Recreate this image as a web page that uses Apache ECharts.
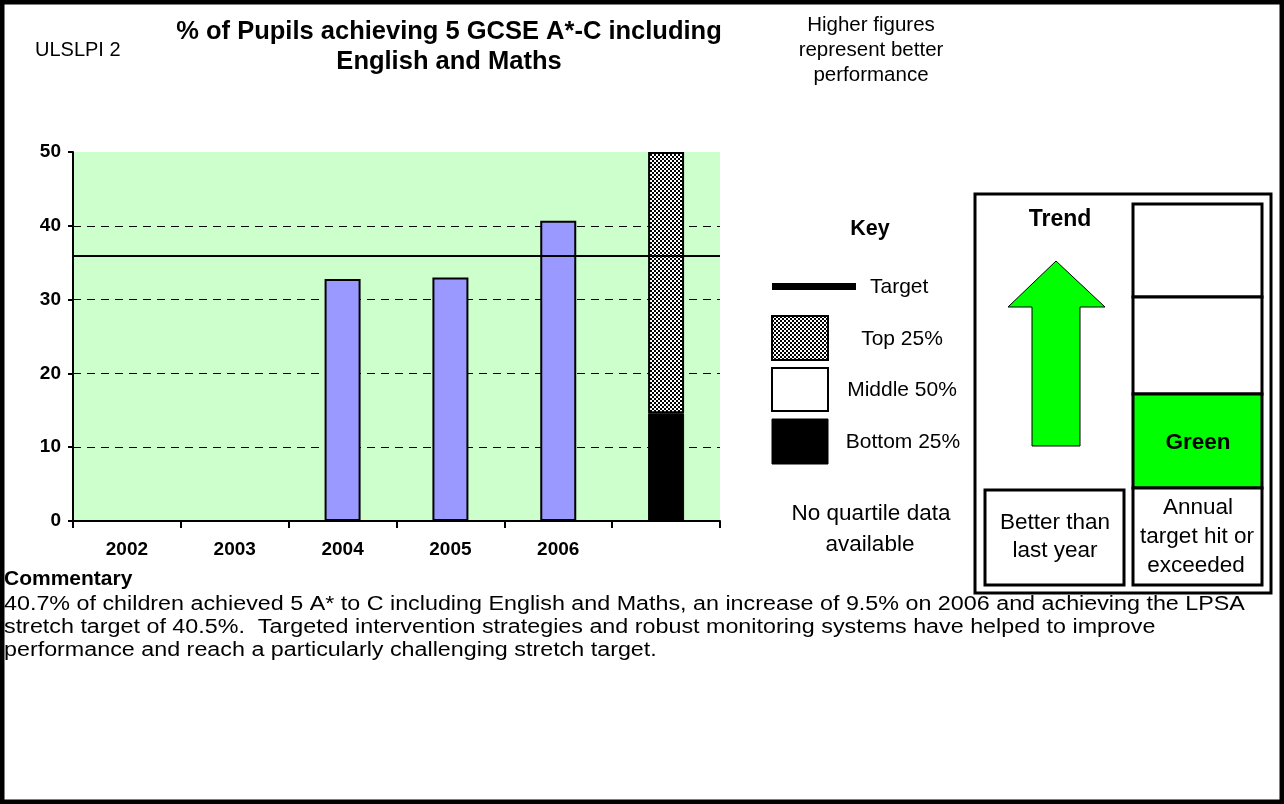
<!DOCTYPE html>
<html>
<head>
<meta charset="utf-8">
<script src="https://cdn.jsdelivr.net/npm/echarts@6/dist/echarts.min.js"></script>
<style>
html,body{margin:0;padding:0;background:#fff;}
#c{width:1284px;height:804px;}
</style>
</head>
<body>
<div id="c"></div>
<script>
// ---- data ----
const categories = ['2002', '2003', '2004', '2005', '2006', ''];
const pupilsPct = [null, null, 32.8, 33.0, 40.7, null];
const targetValue = 36;
const bottomQuartile = [null, null, null, null, null, 14.6];
const middleQuartile = [null, null, null, null, null, 0];
const topQuartile = [null, null, null, null, null, 35.4];
const yMin = 0, yMax = 50, yStep = 10;

const titleLines = ['% of Pupils achieving 5 GCSE A*-C including', 'English and Maths'];
const noteLines = ['Higher figures', 'represent better', 'performance'];
const keyLabels = ['Target', 'Top 25%', 'Middle 50%', 'Bottom 25%'];
const commentaryLines = [
  '40.7% of children achieved 5 A* to C including English and Maths, an increase of 9.5% on 2006 and achieving the LPSA',
  'stretch target of 40.5%.  Targeted intervention strategies and robust monitoring systems have helped to improve',
  'performance and reach a particularly challenging stretch target.'
];

// ---- checker pattern ----
const pat = document.createElement('canvas');
pat.width = 4; pat.height = 4;
const pctx = pat.getContext('2d');
pctx.fillStyle = '#fff'; pctx.fillRect(0, 0, 4, 4);
pctx.fillStyle = '#000'; pctx.fillRect(0, 0, 2, 2); pctx.fillRect(2, 2, 2, 2);
const checker = { image: pat, repeat: 'repeat' };

const FF = '"Liberation Sans", Arial, sans-serif';
function txt(t, x, y, size, bold, align, extra) {
  const o = {
    type: 'text', silent: true, z: 10, x: x, y: y,
    style: {
      text: t, x: 0, y: 0, fill: '#000',
      font: (bold ? 'bold ' : '') + size + 'px ' + FF,
      textAlign: align || 'center', textVerticalAlign: 'middle'
    }
  };
  return Object.assign(o, extra || {});
}
function box(x, y, w, h, fill, lw) {
  return { type: 'rect', silent: true, z: 5, shape: { x: x, y: y, width: w, height: h },
    style: { fill: fill, stroke: '#000', lineWidth: lw } };
}

const graphics = [];
// outer frame
graphics.push({ type: 'rect', silent: true, z: 20, shape: { x: 2, y: 2, width: 1280, height: 800 },
  style: { fill: 'none', stroke: '#000', lineWidth: 5 } });
// header
graphics.push(txt('ULSLPI 2', 35, 50, 20, false, 'left'));
graphics.push(txt(titleLines[0], 449, 32, 25.5, true));
graphics.push(txt(titleLines[1], 449, 62, 25.5, true));
graphics.push(txt(noteLines[0], 871, 25, 20.5, false));
graphics.push(txt(noteLines[1], 871, 50, 20.5, false));
graphics.push(txt(noteLines[2], 871, 75, 20.5, false));
// key
graphics.push(txt('Key', 870, 229, 21.5, true));
graphics.push({ type: 'rect', silent: true, z: 5, shape: { x: 772, y: 283, width: 84, height: 7 }, style: { fill: '#000' } });
graphics.push(txt(keyLabels[0], 870, 287, 21, false, 'left'));
graphics.push(box(772, 316, 56, 44, checker, 2));
graphics.push(txt(keyLabels[1], 902, 339, 21, false));
graphics.push(box(772, 368, 56, 43, '#fff', 2));
graphics.push(txt(keyLabels[2], 902, 390, 21, false));
graphics.push(box(772, 419, 56, 45, '#000', 1));
graphics.push(txt(keyLabels[3], 903, 442, 21, false));
graphics.push(txt('No quartile data', 871, 514, 22.5, false));
graphics.push(txt('available', 870, 545, 22.5, false));
// right panel
graphics.push(box(975, 194, 296, 399, '#fff', 3));
graphics.push(txt('Trend', 1060, 220, 23, true));
graphics.push({ type: 'polygon', silent: true, z: 6,
  shape: { points: [[1056, 261], [1105, 307], [1080, 307], [1080, 446], [1032, 446], [1032, 307], [1008, 307]] },
  style: { fill: '#00FF00', stroke: '#000', lineWidth: 1 } });
graphics.push(box(985, 490, 139, 95, '#fff', 3));
graphics.push(txt('Better than', 1055, 523, 22.5, false));
graphics.push(txt('last year', 1055, 551, 22.5, false));
graphics.push(box(1133, 204, 129, 93, '#fff', 3));
graphics.push(box(1133, 297, 129, 97, '#fff', 3));
graphics.push(box(1133, 394, 129, 94, '#00FF00', 3));
graphics.push(box(1133, 488, 129, 97, '#fff', 3));
graphics.push(txt('Green', 1198, 443, 22.5, true));
graphics.push(txt('Annual', 1198, 508, 22.5, false));
graphics.push(txt('target hit or', 1197, 537, 22.5, false));
graphics.push(txt('exceeded', 1196, 566, 22.5, false));
// commentary
graphics.push(txt('Commentary', 4, 579, 21, true, 'left'));
commentaryLines.forEach(function (l, i) {
  graphics.push(txt(l, 4, 604 + i * 23, 20, false, 'left', { scaleX: 1.165 }));
});

const chart = echarts.init(document.getElementById('c'), null, { renderer: 'canvas' });
chart.setOption({
  animation: false,
  backgroundColor: '#fff',
  grid: { left: 73, right: 564, top: 152, bottom: 283, show: true, backgroundColor: '#CCFFCC', borderWidth: 0 },
  xAxis: {
    type: 'category', data: categories, boundaryGap: true,
    axisLine: { lineStyle: { color: '#000', width: 2 } },
    axisTick: { show: true, length: 7, lineStyle: { color: '#000', width: 2 } },
    axisLabel: { color: '#000', fontWeight: 'bold', fontSize: 19, fontFamily: FF, margin: 19 }
  },
  yAxis: {
    type: 'value', min: yMin, max: yMax, interval: yStep,
    axisLine: { show: true, lineStyle: { color: '#000', width: 2 } },
    axisTick: { show: true, length: 5, lineStyle: { color: '#000', width: 2 } },
    axisLabel: { color: '#000', fontWeight: 'bold', fontSize: 19, fontFamily: FF, margin: 12 },
    splitLine: { show: true, showMinLine: false, showMaxLine: false, lineStyle: { color: '#000', width: 1, type: [8, 6] } }
  },
  series: [
    {
      name: 'Pupils', type: 'bar', data: pupilsPct, barWidth: 36, barGap: '-100%', z: 3,
      itemStyle: { color: '#9999FF', borderColor: '#000', borderWidth: 2 },
      markLine: { silent: true, symbol: 'none', label: { show: false },
        lineStyle: { color: '#000', width: 2, type: 'solid' }, data: [{ yAxis: targetValue }] }
    },
    { name: 'Bottom 25%', type: 'bar', stack: 'q', data: bottomQuartile, barWidth: 36, barGap: '-100%', z: 2,
      itemStyle: { color: '#000', borderColor: '#000', borderWidth: 1 } },
    { name: 'Middle 50%', type: 'bar', stack: 'q', data: middleQuartile, barWidth: 36, barGap: '-100%', z: 2,
      itemStyle: { color: '#fff', borderWidth: 0 } },
    { name: 'Top 25%', type: 'bar', stack: 'q', data: topQuartile, barWidth: 36, barGap: '-100%', z: 2,
      itemStyle: { color: checker, borderColor: '#000', borderWidth: 2 } }
  ],
  graphic: graphics
});
</script>
</body>
</html>
